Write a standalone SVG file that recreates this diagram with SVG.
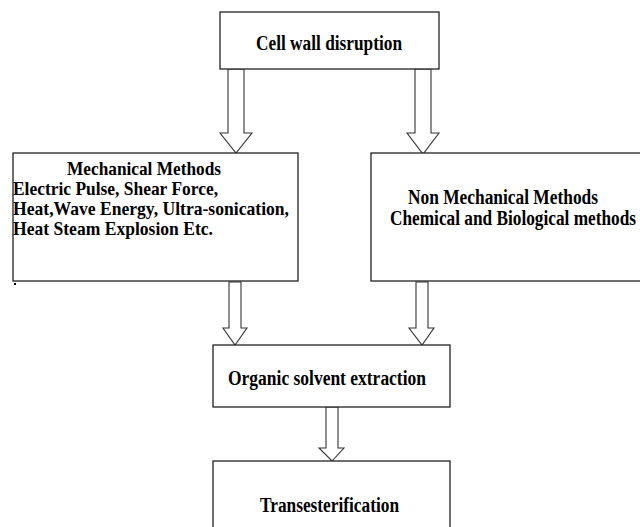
<svg xmlns="http://www.w3.org/2000/svg" width="640" height="527" viewBox="0 0 640 527">
<style>
.box{fill:#fff;stroke:#222;stroke-width:1.3}
.arr{fill:#fff;stroke:#333;stroke-width:1.1;stroke-linejoin:miter}
text{font-family:"Liberation Serif","Times New Roman",serif;font-weight:bold;font-size:20px;fill:#000}
.m{font-size:19px}
</style>
<rect width="640" height="527" fill="#fff"/>
<g id="connectors">
<polygon class="arr" points="228,69 244,69 244,133 252,133 236,153 220,133 228,133"/>
<polygon class="arr" points="415,69 431,69 431,133 439,133 423,154 407,133 415,133"/>
<polygon class="arr" points="229,282 241,282 241,328 247,328 235,345 223,328 229,328"/>
<polygon class="arr" points="416,282 428,282 428,328 434,328 422,345 409,328 416,328"/>
<polygon class="arr" points="326,407 338,407 338,448 344,448 332,461 319,448 326,448"/>
</g>
<g id="cell-wall">
<rect class="box" x="220" y="12" width="219" height="57"/>
<text x="256" y="50" textLength="146" lengthAdjust="spacingAndGlyphs">Cell wall disruption</text>
</g>
<g id="mechanical">
<rect class="box" x="13" y="153" width="285" height="128"/>
<text class="m" x="67" y="175" textLength="154" lengthAdjust="spacingAndGlyphs">Mechanical Methods</text>
<text class="m" x="13" y="195" textLength="205" lengthAdjust="spacingAndGlyphs">Electric Pulse, Shear Force,</text>
<text class="m" x="13" y="215" textLength="276" lengthAdjust="spacingAndGlyphs">Heat,Wave Energy, Ultra-sonication,</text>
<text class="m" x="13" y="235" textLength="200" lengthAdjust="spacingAndGlyphs">Heat Steam Explosion Etc.</text>
<rect x="14" y="283" width="2" height="2" fill="#000"/>
</g>
<g id="non-mechanical">
<rect class="box" x="371" y="153" width="280" height="128"/>
<text x="408" y="204" textLength="190" lengthAdjust="spacingAndGlyphs">Non Mechanical Methods</text>
<text x="390" y="225" textLength="246" lengthAdjust="spacingAndGlyphs">Chemical and Biological methods</text>
</g>
<g id="organic">
<rect class="box" x="213" y="345" width="237" height="62"/>
<text x="228" y="385" textLength="198" lengthAdjust="spacingAndGlyphs">Organic solvent extraction</text>
</g>
<g id="trans">
<rect class="box" x="213" y="461" width="237" height="80"/>
<text x="260" y="512" textLength="139" lengthAdjust="spacingAndGlyphs">Transesterification</text>
</g>
</svg>
